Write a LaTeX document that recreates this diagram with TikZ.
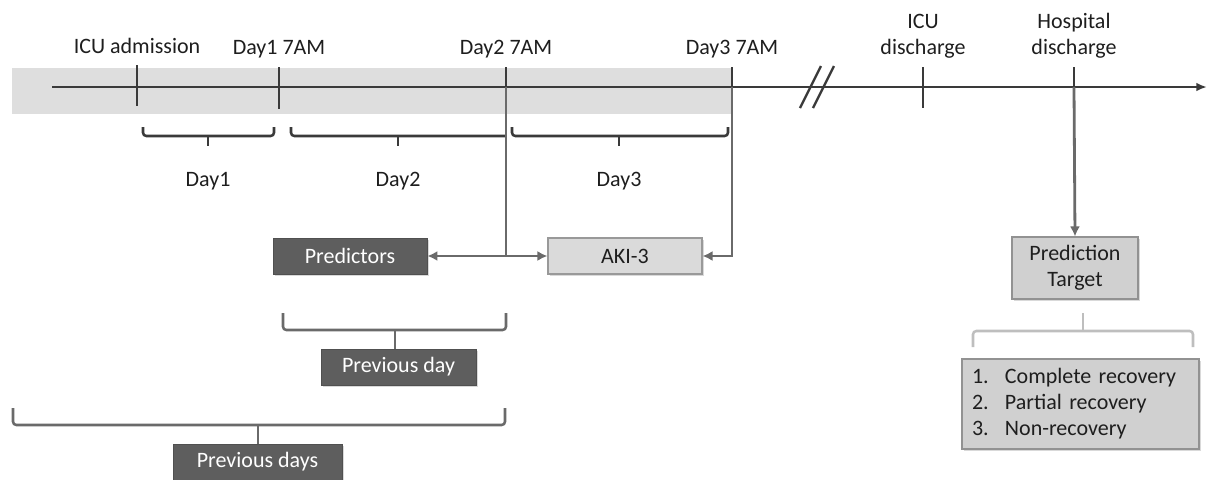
\documentclass[tikz,border=0pt]{standalone}
\usepackage{fontspec}
\setmainfont{Carlito}
\usetikzlibrary{arrows.meta,shadows}
\definecolor{bandc}{HTML}{DEDEDE}
\definecolor{axisc}{HTML}{3A3A3A}
\definecolor{connc}{HTML}{6A6A6A}
\definecolor{dboxc}{HTML}{5E5E5E}
\definecolor{lboxc}{HTML}{DADADA}
\definecolor{mboxc}{HTML}{D0D0D0}
\definecolor{txtc}{HTML}{1E1E1E}
\definecolor{lbrace}{HTML}{BEBEBE}
\begin{document}
\begin{tikzpicture}[x=0.75pt,y=-0.75pt,
  font=\fontsize{16.5}{19.5}\selectfont,
  every node/.style={text=txtc},
  axisline/.style={draw=axisc,line width=1.8pt},
  connline/.style={draw=connc,line width=2.1pt},
  tipped/.style={-{Latex[length=7.5pt,width=7.5pt]}},
  bracepath/.style={line width=1.9pt,rounded corners=2.5pt},
  boxshadow/.style={drop shadow={shadow xshift=1.2pt,shadow yshift=-1.2pt,opacity=0.3}},
  darkbox/.style={draw=dboxc!85!black,fill=dboxc,text=white,line width=0.6pt,inner sep=0pt,boxshadow},
  lightbox/.style={draw=#1!70!black,fill=#1,line width=0.8pt,inner sep=0pt,boxshadow},
  toplabel/.style={anchor=base,align=center},
  daylabel/.style={anchor=base}
]
\useasboundingbox (0,0) rectangle (1208,479);

% shaded band
\fill[bandc] (12,68) rectangle (732,114);

% axis
\coordinate (t0) at (137,87);
\coordinate (t1) at (279,87);
\coordinate (t2) at (506,87);
\coordinate (t3) at (732,87);
\coordinate (t4) at (923,87);
\coordinate (t5) at (1074,87);
\coordinate (axs) at (52,87);
\coordinate (axe) at (1207,87);
\draw[axisline,-{Latex[length=8pt,width=6.5pt]}] (axs) -- (axe);
\draw[axisline] (137,65) -- (137,106);
\draw[axisline] (279,67) -- (279,109);
\draw[axisline] (506,67) -- (506,88);
\draw[axisline] (732,67) -- (732,88);
\draw[axisline] (923,67) -- (923,108);
\draw[axisline] (1074,67) -- (1074,88);
% break mark
\draw[axisline] (800,108) -- (821,66);
\draw[axisline] (813,108) -- (834,66);

% top labels
\node[toplabel] (l0) at (137,53) {ICU admission};
\node[toplabel] (l1) at (279,54) {Day1 7AM};
\node[toplabel] (l2) at (506,54) {Day2 7AM};
\node[toplabel] (l3) at (732,54) {Day3 7AM};
\node[toplabel] (l4) at (923,54) {ICU\\discharge};
\node[toplabel] (l5) at (1074,54) {Hospital\\discharge};

% day braces
\draw[bracepath,draw=axisc] (143,127) -- (143,136) -- (274,136) -- (274,127);
\draw[bracepath,draw=axisc] (208,136) -- (208,146);
\draw[bracepath,draw=axisc] (291,127) -- (291,136) -- (505,136);
\draw[bracepath,draw=axisc] (398,136) -- (398,146);
\draw[bracepath,draw=axisc] (512,127) -- (512,136) -- (728,136) -- (728,127);
\draw[bracepath,draw=axisc] (619,136) -- (619,146);
\node[daylabel] (d1) at (208,186) {Day1};
\node[daylabel] (d2) at (398,186) {Day2};
\node[daylabel] (d3) at (619,186) {Day3};

% boxes
\node[darkbox,minimum width=115.5pt,minimum height=27pt] (pred) at (350,256) {Predictors};
\node[lightbox=lboxc,minimum width=115.5pt,minimum height=27pt] (aki) at (625,256) {AKI-3};
\node[darkbox,minimum width=116.25pt,minimum height=27pt] (pday) at (398.5,367) {Previous day};
\node[darkbox,minimum width=126.75pt,minimum height=27pt] (pdays) at (257.5,462) {Previous days};
\node[lightbox=mboxc,minimum width=94.5pt,minimum height=46.5pt,align=center] (pt) at (1075,268) {Prediction\\Target};
\node[lightbox=mboxc,minimum width=177.75pt,minimum height=67.5pt,text width=162.75pt,align=left,inner xsep=7.5pt] (lst) at (1080.5,404)
  {\makebox[24.75pt][l]{1.}Complete recovery\\\makebox[24.75pt][l]{2.}Partial recovery\\\makebox[24.75pt][l]{3.}Non-recovery};

% connectors
\coordinate (j2) at (506,256);
\draw[connline] (t2) -- (j2);
\draw[connline,tipped] (j2) -- (pred.east);
\draw[connline,tipped] (j2) -- (aki.west);
\draw[connline,tipped] (t3) |- (aki.east);
\draw[connline,tipped] (t5) -- (pt.north);

% lower braces
\coordinate (bt1) at (395,330);
\coordinate (bt2) at (258,425);
\draw[bracepath,draw=connc] (283,313) -- (283,330) -- (506,330) -- (506,313);
\draw[bracepath,draw=connc] (bt1) -- (bt1 |- pday.north);
\draw[bracepath,draw=connc] (13,408) -- (13,425) -- (505,425) -- (505,408);
\draw[bracepath,draw=connc] (bt2) -- (bt2 |- pdays.north);
\draw[bracepath,draw=lbrace] (973,347) -- (973,331) -- (1193,331) -- (1193,347);
\draw[bracepath,draw=lbrace] (1083,331) -- (1083,313);
\end{tikzpicture}
\end{document}
